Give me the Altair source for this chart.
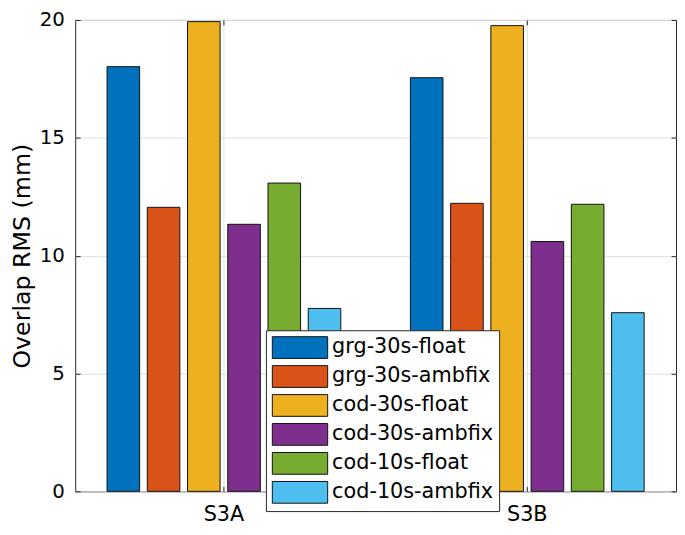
import altair as alt
import pandas as pd

groups = ["S3A", "S3B"]
series = ["grg-30s-float", "grg-30s-ambfix", "cod-30s-float",
          "cod-30s-ambfix", "cod-10s-float", "cod-10s-ambfix"]
s3a_values = [18.02, 12.05, 19.93, 11.33, 13.08, 7.76]
s3b_values = [17.55, 12.22, 19.76, 10.60, 12.18, 7.58]
colors = ["#0072BD", "#D95319", "#EDB120", "#7E2F8E", "#77AC30", "#4DBEEE"]
y_ticks = [0, 5, 10, 15, 20]

rows = []
for g, vals in zip(groups, [s3a_values, s3b_values]):
    for s, v in zip(series, vals):
        rows.append({"group": g, "series": s, "value": v})
df = pd.DataFrame(rows)

FONT = "DejaVu Sans"
DARK = "#262626"
GRID = "#e0e0e0"

x_scale = alt.Scale(domain=groups, paddingInner=0.2294, paddingOuter=0.105)
y_scale = alt.Scale(domain=[0, 20], nice=False)

bars = alt.Chart(df).mark_bar(stroke="#111111", strokeWidth=1).encode(
    x=alt.X("group:N", sort=groups, scale=x_scale,
            axis=alt.Axis(orient="bottom", title=None, labelAngle=0,
                          labelFont=FONT, labelFontSize=21, labelColor="#000",
                          labelPadding=13, grid=True, gridColor=GRID,
                          domain=False, ticks=True, tickSize=5,
                          tickColor=DARK, offset=-5)),
    xOffset=alt.XOffset("series:N", sort=series,
                        scale=alt.Scale(paddingInner=0.19, paddingOuter=0)),
    y=alt.Y("value:Q", scale=y_scale,
            axis=alt.Axis(orient="left", values=y_ticks,
                          title="Overlap RMS (mm)", titleFont=FONT,
                          titleFontSize=24, titleFontWeight="normal",
                          titleColor="#000", titlePadding=5,
                          labelFont=FONT, labelFontSize=20, labelColor="#000",
                          labelPadding=11, grid=True, gridColor=GRID,
                          domain=False, ticks=True, tickSize=5,
                          tickColor=DARK, offset=-5)),
    color=alt.Color("series:N", sort=series,
                    scale=alt.Scale(domain=series, range=colors),
                    legend=alt.Legend(orient="none", legendX=193, legendY=314,
                                      title=None,
                                      symbolType="M-1,-1H4.09V1H-1Z",
                                      symbolSize=484,
                                      symbolStrokeColor="#111111",
                                      symbolStrokeWidth=1,
                                      symbolOpacity=1,
                                      labelFont=FONT, labelFontSize=21,
                                      labelLimit=400,
                                      labelColor="#000", labelOffset=38,
                                      rowPadding=2.3, padding=6,
                                      fillColor="white", strokeColor=DARK)),
)

frame_ticks = alt.Chart(df).mark_point(opacity=0).encode(
    x=alt.X("group:N", sort=groups, scale=x_scale,
            axis=alt.Axis(orient="top", title=None, labels=False, grid=False,
                          domain=False, ticks=True, tickSize=5,
                          tickColor=DARK, offset=-5)),
    y=alt.Y("value:Q", scale=y_scale,
            axis=alt.Axis(orient="right", title=None, labels=False,
                          values=y_ticks, grid=False, domain=False,
                          ticks=True, tickSize=5, tickColor=DARK, offset=-5)),
)

chart = alt.layer(bars, frame_ticks).resolve_axis(
    x="independent", y="independent"
).properties(
    width=608, height=477,
    autosize=alt.AutoSizeParams(type="none"),
    padding={"left": 68, "top": 9, "right": 1, "bottom": 35},
).configure_view(stroke=DARK, strokeWidth=1)

chart.save("out.html", embed_options={"renderer": "svg", "actions": False})
